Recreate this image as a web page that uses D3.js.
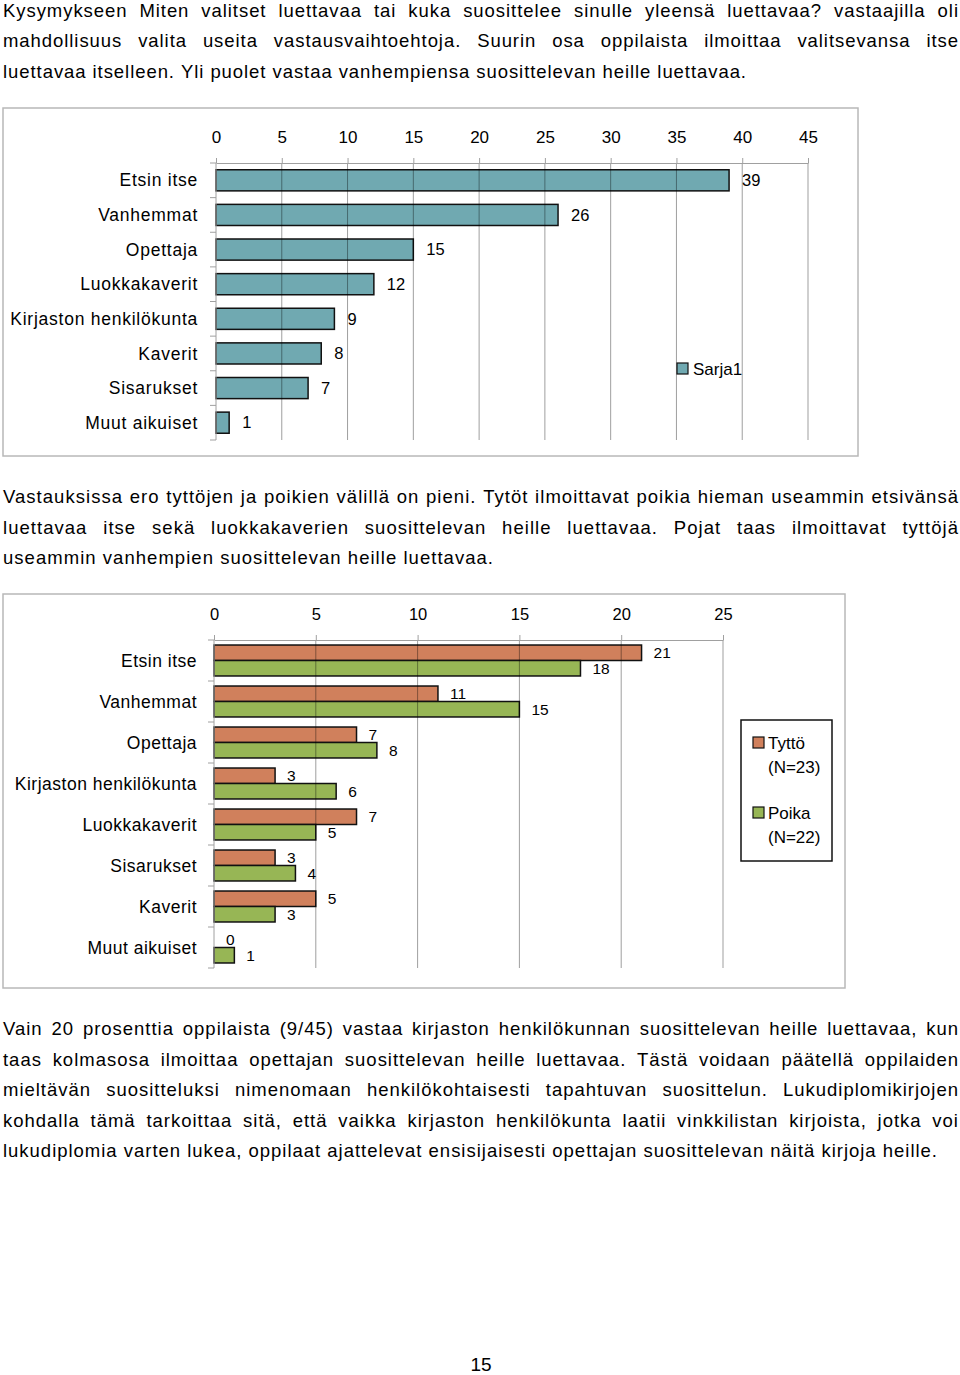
<!DOCTYPE html>
<html>
<head>
<meta charset="utf-8">
<script src="https://cdn.jsdelivr.net/npm/d3@7"></script>
<style>
  html, body { margin: 0; padding: 0; background: #fff; }
  svg { display: block; }
  text { font-family: "Liberation Sans", Arial, sans-serif; fill: #000; }
</style>
</head>
<body>
<svg id="page" width="960" height="1375"></svg>
<script>
// ---------- DATA ----------
const cats1 = ["Etsin itse", "Vanhemmat", "Opettaja", "Luokkakaverit", "Kirjaston henkilökunta", "Kaverit", "Sisarukset", "Muut aikuiset"];
const vals1 = [39, 26, 15, 12, 9, 8, 7, 1];
const ticks1 = [0, 5, 10, 15, 20, 25, 30, 35, 40, 45];
const series1 = "Sarja1";

const cats2 = ["Etsin itse", "Vanhemmat", "Opettaja", "Kirjaston henkilökunta", "Luokkakaverit", "Sisarukset", "Kaverit", "Muut aikuiset"];
const girls = [21, 11, 7, 3, 7, 3, 5, 0];
const boys = [18, 15, 8, 6, 5, 4, 3, 1];
const series2 = ["Tyttö", "Poika"];
const series2N = ["(N=23)", "(N=22)"];
const ticks2 = [0, 5, 10, 15, 20, 25];

const para1 = [
  "Kysymykseen Miten valitset luettavaa tai kuka suosittelee sinulle yleensä luettavaa? vastaajilla oli",
  "mahdollisuus valita useita vastausvaihtoehtoja. Suurin osa oppilaista ilmoittaa valitsevansa itse",
  "luettavaa itselleen. Yli puolet vastaa vanhempiensa suosittelevan heille luettavaa."
];
const para2 = [
  "Vastauksissa ero tyttöjen ja poikien välillä on pieni. Tytöt ilmoittavat poikia hieman useammin etsivänsä",
  "luettavaa itse sekä luokkakaverien suosittelevan heille luettavaa. Pojat taas ilmoittavat tyttöjä",
  "useammin vanhempien suosittelevan heille luettavaa."
];
const para3 = [
  "Vain 20 prosenttia oppilaista (9/45) vastaa kirjaston henkilökunnan suosittelevan heille luettavaa, kun",
  "taas kolmasosa ilmoittaa opettajan suosittelevan heille luettavaa. Tästä voidaan päätellä oppilaiden",
  "mieltävän suositteluksi nimenomaan henkilökohtaisesti tapahtuvan suosittelun. Lukudiplomikirjojen",
  "kohdalla tämä tarkoittaa sitä, että vaikka kirjaston henkilökunta laatii vinkkilistan kirjoista, jotka voi",
  "lukudiplomia varten lukea, oppilaat ajattelevat ensisijaisesti opettajan suosittelevan näitä kirjoja heille."
];
const pageNumber = "15";

// ---------- STYLE ----------
const teal = "#70a9b1", orange = "#d0805c", green = "#97b655";
const svg = d3.select("#page");

// ---------- PARAGRAPHS ----------
function paragraph(lines, y0, lh, lastWidth) {
  const left = 3, right = 958, fs = 18.5;
  // letter spacing derived from the (unjustified) last line
  const lastLine = lines[lines.length - 1];
  const probe = svg.append("text").attr("font-size", fs).attr("x", -9999).text(lastLine);
  const nat = probe.node().getComputedTextLength();
  probe.remove();
  const ls = Math.max(0, (lastWidth - nat) / (lastLine.length - 1));
  lines.forEach((ln, i) => {
    const y = y0 + i * lh;
    const last = i === lines.length - 1;
    const words = ln.split(" ");
    const g = svg.append("g");
    const nodes = words.map(w => g.append("text").attr("y", y).attr("font-size", fs)
      .attr("letter-spacing", ls).text(w));
    const widths = nodes.map(n => n.node().getComputedTextLength());
    const total = widths.reduce((a, b) => a + b, 0);
    const target = (last ? lastWidth : (right - left)) + ls;
    const gap = words.length > 1 ? (target - total) / (words.length - 1) : 0;
    let x = left;
    nodes.forEach((n, k) => { n.attr("x", x); x += widths[k] + gap; });
  });
}
paragraph(para1, 17, 30.3, 743);
paragraph(para2, 503, 30.5, 490);
paragraph(para3, 1035, 30.5, 934);

svg.append("text").attr("x", 481).attr("y", 1371).attr("text-anchor", "middle")
  .attr("font-size", 19).text(pageNumber);

// ---------- CHART 1 ----------
const c1 = svg.append("g");
c1.append("rect").attr("x", 3).attr("y", 108).attr("width", 855).attr("height", 348)
  .attr("fill", "#fff").attr("stroke", "#b8b8b8").attr("stroke-width", 1.5);

const x1 = d3.scaleLinear().domain([0, 45]).range([216, 808]);
const y1 = d3.scaleBand().domain(cats1).range([163, 440]).paddingInner(0.39).paddingOuter(0.195);

c1.selectAll("rect.bar").data(vals1).join("rect").attr("class", "bar")
  .attr("x", x1(0)).attr("y", (d, i) => y1(cats1[i]))
  .attr("width", d => x1(d) - x1(0)).attr("height", y1.bandwidth())
  .attr("fill", teal).attr("stroke", "#111").attr("stroke-width", 1.5);

c1.selectAll("line.grid").data(ticks1.slice(1)).join("line").attr("class", "grid")
  .attr("x1", d => x1(d)).attr("x2", d => x1(d)).attr("y1", 163).attr("y2", 440)
  .attr("stroke", "rgba(0,0,0,0.38)").attr("stroke-width", 1);

const ax1 = c1.append("g").attr("transform", "translate(0,163)")
  .call(d3.axisTop(x1).tickValues(ticks1).tickSize(5).tickPadding(15).tickSizeOuter(0));
ax1.select(".domain").attr("stroke", "#a0a0a0");
ax1.selectAll(".tick line").attr("stroke", "#a0a0a0");
ax1.selectAll(".tick text").attr("font-size", 17).attr("font-family", "Liberation Sans, Arial, sans-serif").attr("fill", "#000");

const step1 = y1.step();
c1.append("line").attr("x1", x1(0)).attr("x2", x1(0)).attr("y1", 163).attr("y2", 440)
  .attr("stroke", "#a0a0a0");
c1.selectAll("line.ltick").data(d3.range(cats1.length + 1)).join("line").attr("class", "ltick")
  .attr("x1", x1(0) - 6).attr("x2", x1(0))
  .attr("y1", i => y1.range()[0] + i * step1).attr("y2", i => y1.range()[0] + i * step1)
  .attr("stroke", "#a0a0a0");

c1.selectAll("text.cat").data(cats1).join("text").attr("class", "cat")
  .attr("x", 198).attr("y", d => y1(d) + y1.bandwidth() / 2).attr("dy", "0.35em")
  .attr("text-anchor", "end").attr("font-size", 17.5).attr("letter-spacing", 0.75).text(d => d);

c1.selectAll("text.val").data(vals1).join("text").attr("class", "val")
  .attr("x", d => x1(d) + 13).attr("y", (d, i) => y1(cats1[i]) + y1.bandwidth() / 2).attr("dy", "0.35em")
  .attr("font-size", 16.5).text(d => d);

c1.append("rect").attr("x", 677).attr("y", 363).attr("width", 11).attr("height", 11)
  .attr("fill", teal).attr("stroke", "#111").attr("stroke-width", 1.2);
c1.append("text").attr("x", 693).attr("y", 375).attr("font-size", 17).text(series1);

// ---------- CHART 2 ----------
const c2 = svg.append("g");
c2.append("rect").attr("x", 3).attr("y", 594).attr("width", 842).attr("height", 394)
  .attr("fill", "#fff").attr("stroke", "#b8b8b8").attr("stroke-width", 1.5);

const x2 = d3.scaleLinear().domain([0, 25]).range([214, 723]);
const y2 = d3.scaleBand().domain(cats2).range([640, 968]).paddingInner(0.245).paddingOuter(0.1225);
const sub = d3.scaleBand().domain(series2).range([0, y2.bandwidth()]);
const colors2 = { "Tyttö": orange, "Poika": green };

const rows2 = [];
cats2.forEach((c, i) => {
  rows2.push({ cat: c, s: "Tyttö", v: girls[i] });
  rows2.push({ cat: c, s: "Poika", v: boys[i] });
});

c2.selectAll("rect.bar").data(rows2).join("rect").attr("class", "bar")
  .attr("x", x2(0)).attr("y", d => y2(d.cat) + sub(d.s))
  .attr("width", d => x2(d.v) - x2(0)).attr("height", sub.bandwidth())
  .attr("fill", d => colors2[d.s]).attr("stroke", "#111").attr("stroke-width", 1.5)
  .attr("display", d => d.v === 0 ? "none" : null);

c2.selectAll("line.grid").data(ticks2.slice(1)).join("line").attr("class", "grid")
  .attr("x1", d => x2(d)).attr("x2", d => x2(d)).attr("y1", 640).attr("y2", 968)
  .attr("stroke", "rgba(0,0,0,0.38)").attr("stroke-width", 1);

const ax2 = c2.append("g").attr("transform", "translate(0,640)")
  .call(d3.axisTop(x2).tickValues(ticks2).tickSize(5).tickPadding(15).tickSizeOuter(0));
ax2.select(".domain").attr("stroke", "#a0a0a0");
ax2.selectAll(".tick line").attr("stroke", "#a0a0a0");
ax2.selectAll(".tick text").attr("font-size", 16.5).attr("font-family", "Liberation Sans, Arial, sans-serif").attr("fill", "#000");

const step2 = y2.step();
c2.append("line").attr("x1", x2(0)).attr("x2", x2(0)).attr("y1", 640).attr("y2", 968)
  .attr("stroke", "#a0a0a0");
c2.selectAll("line.ltick").data(d3.range(cats2.length + 1)).join("line").attr("class", "ltick")
  .attr("x1", x2(0) - 6).attr("x2", x2(0))
  .attr("y1", i => y2.range()[0] + i * step2).attr("y2", i => y2.range()[0] + i * step2)
  .attr("stroke", "#a0a0a0");

c2.selectAll("text.cat").data(cats2).join("text").attr("class", "cat")
  .attr("x", 197).attr("y", d => y2(d) + y2.bandwidth() / 2).attr("dy", "0.35em")
  .attr("text-anchor", "end").attr("font-size", 17.5).attr("letter-spacing", 0.5).text(d => d);

c2.selectAll("text.val").data(rows2).join("text").attr("class", "val")
  .attr("x", d => x2(d.v) + 12).attr("y", d => y2(d.cat) + sub(d.s) + sub.bandwidth() / 2).attr("dy", "0.35em")
  .attr("font-size", 15.5).text(d => d.v);

const lg = c2.append("g");
lg.append("rect").attr("x", 741).attr("y", 720).attr("width", 91).attr("height", 141)
  .attr("fill", "#fff").attr("stroke", "#111").attr("stroke-width", 1.5);
series2.forEach((s, i) => {
  const yy = 737 + i * 70;
  lg.append("rect").attr("x", 753).attr("y", yy).attr("width", 11).attr("height", 11)
    .attr("fill", colors2[s]).attr("stroke", "#111").attr("stroke-width", 1.2);
  lg.append("text").attr("x", 768).attr("y", yy + 12).attr("font-size", 17).text(s);
  lg.append("text").attr("x", 768).attr("y", yy + 36).attr("font-size", 17).text(series2N[i]);
});
</script>
</body>
</html>
